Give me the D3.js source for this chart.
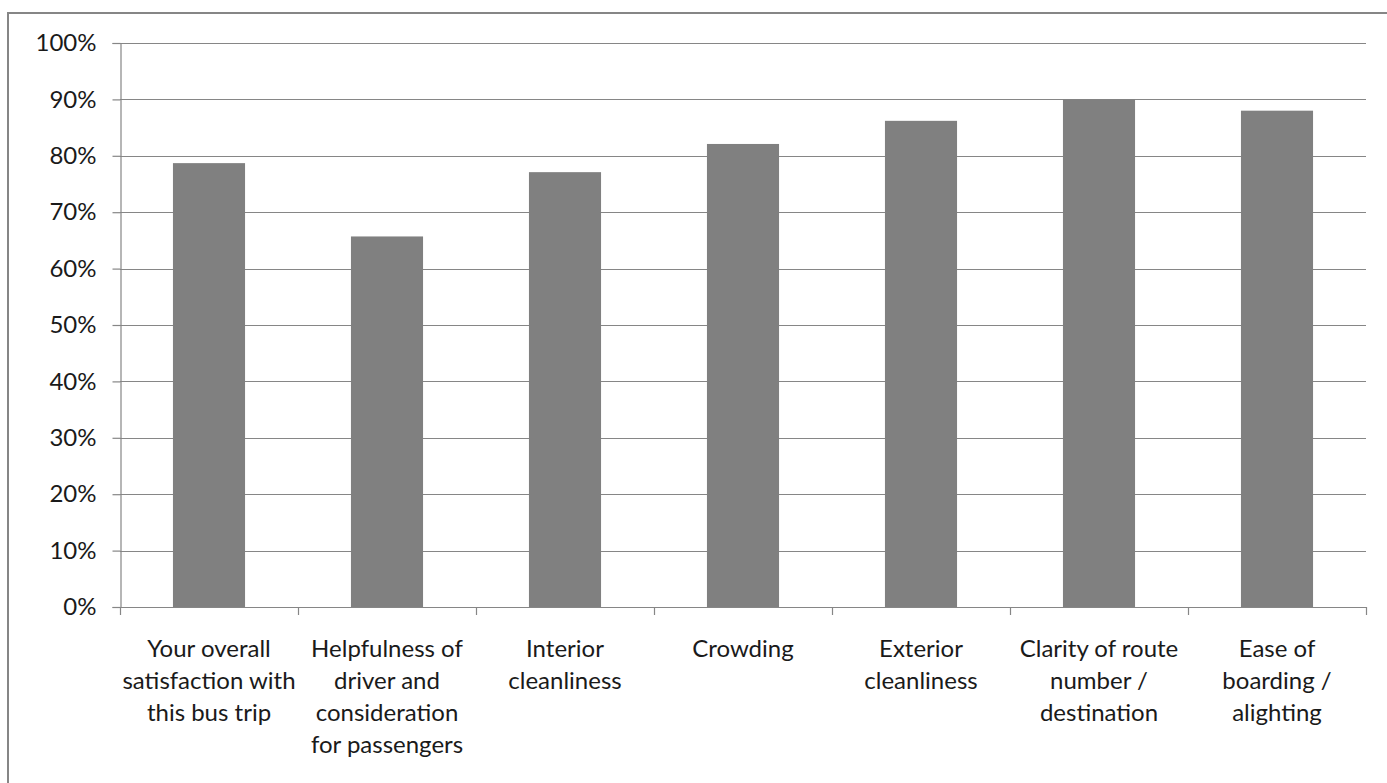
<!DOCTYPE html>
<html><head><meta charset="utf-8">
<script src="https://cdn.jsdelivr.net/npm/d3@7"></script>
<style>body{margin:0;background:#fff}svg{display:block}</style>
</head><body>
<svg id="c" width="1387" height="783"></svg>
<script>
const categories = [
  ["Your overall","satisfaction with","this bus trip"],
  ["Helpfulness of","driver and","consideration","for passengers"],
  ["Interior","cleanliness"],
  ["Crowding"],
  ["Exterior","cleanliness"],
  ["Clarity of route","number /","destination"],
  ["Ease of","boarding /","alighting"]
];
const values = [0.787, 0.657, 0.771, 0.821, 0.862, 0.900, 0.880];
const yTicks = [0,0.1,0.2,0.3,0.4,0.5,0.6,0.7,0.8,0.9,1.0];

const svg = d3.select("#c");
const font = "Lato, 'Open Sans', sans-serif";
svg.append("rect").attr("x",8).attr("y",13).attr("width",1390).attr("height",800)
  .attr("fill","#fff").attr("stroke","#868686").attr("stroke-width",2);

const L=120, R=1366, T=43, B=607;
const x = d3.scaleBand().domain(d3.range(categories.length)).range([L,R]).paddingInner(0.595).paddingOuter(0.2975);
const xb = d3.scaleBand().domain(d3.range(categories.length)).range([L,R]);
const y = d3.scaleLinear().domain([0,1]).range([B,T]);

// gridlines
svg.append("g").selectAll("line").data(yTicks.filter(d=>d>0)).join("line")
  .attr("x1",L).attr("x2",R).attr("y1",d=>Math.round(y(d))+0.5).attr("y2",d=>Math.round(y(d))+0.5)
  .attr("stroke","#868686").attr("stroke-width",1.2);

// bars
svg.append("g").selectAll("rect").data(values).join("rect")
  .attr("x",(d,i)=>x(i)).attr("width",x.bandwidth())
  .attr("y",d=>y(d)).attr("height",d=>B-y(d))
  .attr("fill","#808080");

// y axis
const ya = d3.axisLeft(y).tickValues(yTicks).tickFormat(d3.format(".0%")).tickSize(8).tickPadding(16);
const yg = svg.append("g").attr("transform",`translate(${L+0.5},0)`).call(ya);
yg.select(".domain").attr("stroke","#868686").attr("stroke-width",1.2);
yg.selectAll(".tick line").attr("stroke","#868686").attr("stroke-width",1.2);
yg.selectAll(".tick text").attr("font-family",font).attr("font-size",24).attr("fill","#1a1a1a");

// x axis line and ticks
svg.append("line").attr("x1",L).attr("x2",R).attr("y1",B+0.5).attr("y2",B+0.5).attr("stroke","#868686").attr("stroke-width",1.2);
const bounds = d3.range(categories.length+1).map(i=> i<categories.length ? xb(i) : R);
svg.append("g").selectAll("line").data(bounds).join("line")
  .attr("x1",d=>d+0.5).attr("x2",d=>d+0.5).attr("y1",B).attr("y2",B+8)
  .attr("stroke","#868686").attr("stroke-width",1.2);

// category labels
const lg = svg.append("g").selectAll("text").data(categories).join("text")
  .attr("font-family",font).attr("font-size",24).attr("fill","#1a1a1a").attr("text-anchor","middle");
lg.each(function(lines,i){
  const t=d3.select(this);
  lines.forEach((s,k)=>t.append("tspan").attr("x",xb(i)+xb.bandwidth()/2).attr("y",657+k*32).text(s));
});
</script>
</body></html>
